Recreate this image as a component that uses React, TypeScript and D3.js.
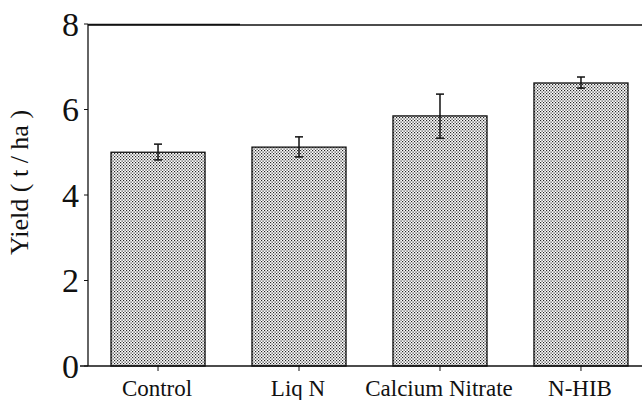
import React from "react";
import * as d3 from "d3";

const categories = ["Control", "Liq N", "Calcium Nitrate", "N-HIB"];
const yieldValues = [5.0, 5.12, 5.85, 6.62];
const errUpper = [5.19, 5.36, 6.36, 6.76];
const errLower = [4.82, 4.89, 5.33, 6.5];
const yTicks = [0, 2, 4, 6, 8];

export default function App() {
  const W = 642, H = 400;
  const left = 88, right = 651, top = 24, bottom = 366;
  const x = d3.scaleBand<string>().domain(categories).range([87.5, 651.5]).paddingInner(0.333).paddingOuter(0.1667);
  const y = d3.scaleLinear().domain([0, 8]).range([bottom, top]);
  const fstyle = { fontFamily: "'Liberation Serif', 'Times New Roman', Times, serif" };
  const bw = x.bandwidth();
  return (
    <svg width={W} height={H} style={{ position: "absolute", left: 0, top: 0, background: "#fff" }}>
      <defs>
        <pattern id="dots" width="3" height="3" patternUnits="userSpaceOnUse">
          <rect width="3" height="3" fill="#fff" />
          <rect x="0" y="0" width="1.2" height="1.2" fill="#222" />
          <rect x="1.5" y="1.5" width="1.2" height="1.2" fill="#222" />
        </pattern>
      </defs>
      {/* frame */}
      <line x1={left} x2={right} y1={y(8) + 1} y2={y(8) + 1} stroke="#111" strokeWidth={1.3} />
      <line x1={left} x2={240} y1={y(8) + 0.5} y2={y(8) + 0.5} stroke="#111" strokeWidth={1.5} />
      <line x1={left} x2={left} y1={y(8)} y2={bottom} stroke="#111" strokeWidth={1.3} />
      {/* bars */}
      {categories.map((c, i) => (
        <rect key={c} x={x(c)} y={y(yieldValues[i])} width={bw} height={bottom - y(yieldValues[i])}
          fill="url(#dots)" stroke="#111" strokeWidth={1.3} />
      ))}
      {/* error bars */}
      {categories.map((c, i) => {
        const cx = (x(c) as number) + bw / 2;
        return (
          <g key={"e" + c} stroke="#111" strokeWidth={1.5}>
            <line x1={cx} x2={cx} y1={y(errUpper[i])} y2={y(errLower[i])} />
            <line x1={cx - 4} x2={cx + 4} y1={y(errUpper[i])} y2={y(errUpper[i])} />
            <line x1={cx - 4} x2={cx + 4} y1={y(errLower[i])} y2={y(errLower[i])} />
          </g>
        );
      })}
      <line x1={left - 8} x2={right} y1={bottom} y2={bottom} stroke="#111" strokeWidth={1.5} />
      {/* y ticks */}
      {yTicks.map((t) => (
        <g key={t}>
          <line x1={left - 4} x2={left} y1={y(t)} y2={y(t)} stroke="#111" strokeWidth={1} />
          <text x={79} y={y(t)} dy="0.35em" textAnchor="end" style={fstyle} fontSize={34} fill="#111">{t}</text>
        </g>
      ))}
      {/* x ticks and labels */}
      {categories.map((c) => {
        const cx = (x(c) as number) + bw / 2;
        return (
          <g key={"t" + c}>
            <line x1={cx} x2={cx} y1={bottom} y2={bottom + 5} stroke="#111" strokeWidth={1} />
            <text x={cx - 1} y={396} textAnchor="middle" style={fstyle} fontSize={23} fill="#111">{c}</text>
          </g>
        );
      })}
      <text transform={`translate(28,182.5) rotate(-90)`} textAnchor="middle" style={fstyle} fontSize={26}
        fill="#111">
        {"Yield ( t / ha )"}
      </text>
    </svg>
  );
}
